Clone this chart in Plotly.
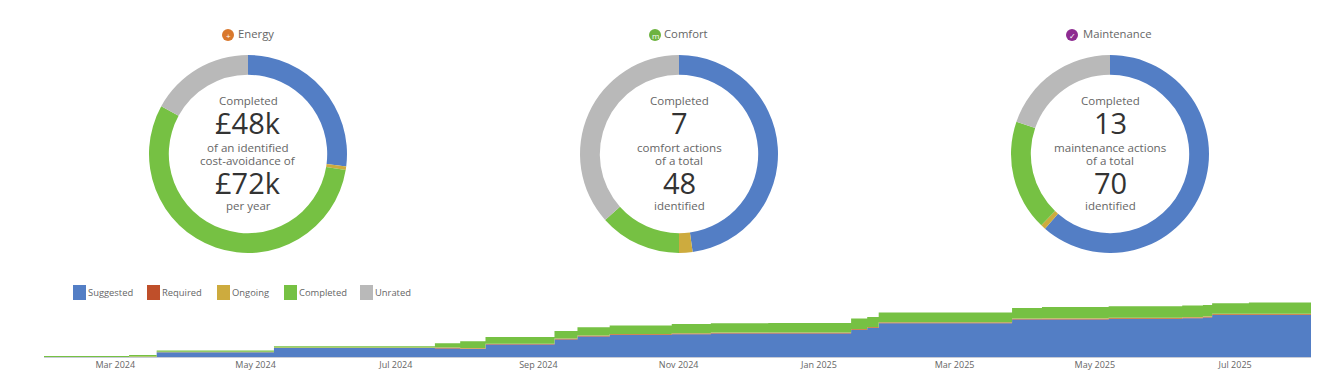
import plotly.graph_objects as go

W, H = 1332, 377
FONT = "Open Sans"
STATUS = ["Suggested", "Required", "Ongoing", "Completed", "Unrated"]
COLORS = ["#537EC5", "#BF4F2A", "#CDAB3E", "#76C143", "#B9B9B9"]

energy_values = [27.0, 0, 0.6, 55.4, 17.0]
comfort_values = [47.8, 0, 2.2, 13.4, 36.6]
maintenance_values = [61.4, 0, 0.8, 18.1, 19.7]

dates = ["2024-01-30", "2024-03-07", "2024-03-19", "2024-05-09", "2024-07-18", "2024-07-29",
         "2024-08-09", "2024-09-08", "2024-09-18", "2024-10-02", "2024-10-29", "2024-11-15",
         "2024-12-10", "2025-01-15", "2025-01-22", "2025-01-27", "2025-03-26", "2025-04-08",
         "2025-05-07", "2025-06-08", "2025-06-17", "2025-06-21", "2025-07-07", "2025-08-03"]
suggested = [0, 0, 4.7, 9, 8.6, 8.0, 12.4, 17.5, 20.5, 22, 22.7, 23.4,
             23.5, 27, 29, 33.7, 37.4, 37.6, 38, 38.7, 39.5, 42, 42, 42]
required = [0, 0, 0, 0, 0.6, 0.6, 0.6, 0.7, 0.7, 0.7, 0.7, 0.7,
            0.7, 0.7, 0.7, 0.7, 0.7, 0.7, 0.7, 0.7, 0.7, 0.7, 0.7, 0.7]
ongoing = [0, 0.5, 0.5, 0.5, 0.3, 0.3, 0.3, 0.4, 0.4, 0.4, 0.4, 0.4,
           0.4, 0.4, 0.4, 0.4, 0.5, 0.5, 0.5, 0.5, 0.5, 0.5, 0.6, 0.6]
completed = [1.0, 1.6, 1.2, 1.2, 4.2, 6.8, 6.7, 7.4, 8.1, 8.3, 9.2, 9.2,
             9.4, 10.3, 10.0, 9.6, 10.4, 11.2, 11.5, 11.5, 11.3, 10.5, 11.1, 11.1]
unrated = [0] * 24

tick_vals = ["2024-03-01", "2024-05-01", "2024-07-01", "2024-09-01", "2024-11-01",
             "2025-01-01", "2025-03-01", "2025-05-01", "2025-07-01"]
tick_text = ["Mar 2024", "May 2024", "Jul 2024", "Sep 2024", "Nov 2024",
             "Jan 2025", "Mar 2025", "May 2025", "Jul 2025"]

donut_titles = ["Energy", "Comfort", "Maintenance"]
donut_values = [energy_values, comfort_values, maintenance_values]
donut_cx = [248, 679, 1110]
title_x = [255.5, 686, 1116.5]
icon_x = [228, 655, 1072]
icon_color = ["#D9782D", "#6DB33F", "#8E2C91"]
icon_glyph = ["+", "m", "✓"]
center_text = [
    ["Completed", "£48k", "of an identified", "cost-avoidance of", "£72k", "per year"],
    ["Completed", "7", "comfort actions", "of a total", "48", "identified"],
    ["Completed", "13", "maintenance actions", "of a total", "70", "identified"],
]
center_y = [100.5, 122.5, 147.5, 160.5, 182.5, 205.5]
center_size = [11.5, 29, 11.6, 11.6, 29, 11.5]
center_color = ["#666666", "#333333", "#666666", "#666666", "#333333", "#666666"]

legend_x = [73, 147, 217, 284, 360]


def px(x):
    return x / W


def py(y):
    return 1 - y / H


fig = go.Figure()

for values, cx in zip(donut_values, donut_cx):
    fig.add_trace(go.Pie(
        labels=STATUS, values=values, hole=0.8, sort=False, direction="clockwise", rotation=0,
        textinfo="none", showlegend=False, marker=dict(colors=COLORS, line=dict(width=0)),
        domain=dict(x=[px(cx - 99), px(cx + 99)], y=[py(253), py(55)]),
    ))

for name, vals, color in zip(STATUS, [suggested, required, ongoing, completed, unrated], COLORS):
    fig.add_trace(go.Scatter(
        x=dates, y=vals, name=name, mode="lines", stackgroup="one", showlegend=False,
        line=dict(shape="hv", width=0, color=color), fillcolor=color,
    ))

annotations = []
shapes = []


def text(x, y, s, size, color, xanchor="center"):
    annotations.append(dict(
        x=px(x), y=py(y), xref="paper", yref="paper", text=s, showarrow=False, xanchor=xanchor,
        yanchor="middle", font=dict(family=FONT, size=size, color=color),
    ))


for cx, lines in zip(donut_cx, center_text):
    for line, y, size, color in zip(lines, center_y, center_size, center_color):
        text(cx, y, line, size, color)

for title, tx, ix, col, glyph in zip(donut_titles, title_x, icon_x, icon_color, icon_glyph):
    text(tx, 34, title, 11.3, "#666666")
    shapes.append(dict(type="circle", xref="paper", yref="paper", x0=px(ix - 6), x1=px(ix + 6),
                       y0=py(41), y1=py(29), fillcolor=col, line=dict(width=0)))
    text(ix, 35, glyph, 8, "#FFFFFF")

for name, lx, col in zip(STATUS, legend_x, COLORS):
    shapes.append(dict(type="rect", xref="paper", yref="paper", x0=px(lx), x1=px(lx + 13),
                       y0=py(300), y1=py(285), fillcolor=col, line=dict(width=0)))
    text(lx + 13, 292.5, name, 9.4, "#666666", "left")

fig.update_layout(
    width=W, height=H, margin=dict(l=0, r=0, t=0, b=0), autosize=False,
    paper_bgcolor="white", plot_bgcolor="white", showlegend=False,
    annotations=annotations, shapes=shapes,
    xaxis=dict(domain=[px(44), px(1311)], range=["2024-01-30", "2025-08-03"], type="date",
               tickmode="array", tickvals=tick_vals, ticktext=tick_text, ticks="", showgrid=False,
               zeroline=False, showline=True, linecolor="#C8CCD6", linewidth=1, ticklabelstandoff=-1,
               tickfont=dict(family=FONT, size=9, color="#666666")),
    yaxis=dict(domain=[py(357), py(297)], range=[0, 60], visible=False, showgrid=False, zeroline=False),
)

fig.write_html("out.html", config=dict(displayModeBar=False),
               post_script="document.body.style.margin='0';")
